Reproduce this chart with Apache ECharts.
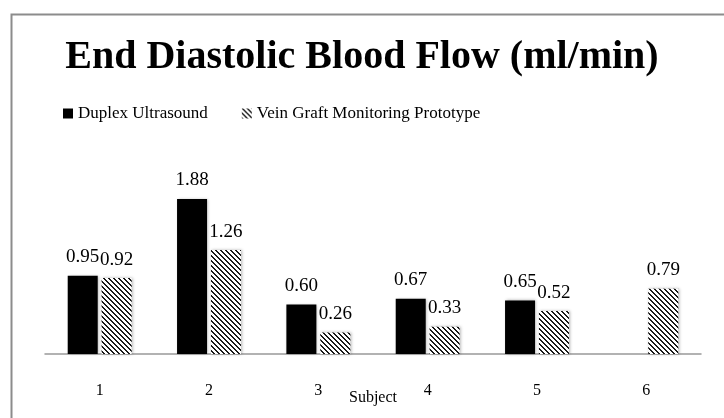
<!DOCTYPE html>
<html>
<head>
<meta charset="utf-8">
<script src="https://cdn.jsdelivr.net/npm/echarts@6/dist/echarts.min.js"></script>
<style>
  html, body { margin: 0; padding: 0; background: #fff; }
  #chart { width: 724px; height: 418px; }
</style>
</head>
<body>
<div id="chart"></div>
<script>
// data
var subjects = ['1', '2', '3', '4', '5', '6'];
var duplex = [0.95, 1.88, 0.60, 0.67, 0.65, null];
var prototype = [0.92, 1.26, 0.26, 0.33, 0.52, 0.79];

// diagonal hatch for the prototype series
function hatch() {
    var n = 5;
    var c = document.createElement('canvas');
    c.width = n;
    c.height = n;
    var ctx = c.getContext('2d');
    ctx.fillStyle = '#fff';
    ctx.fillRect(0, 0, n, n);
    ctx.fillStyle = '#1a1a1a';
    for (var x = 0; x < n; x++) {
        for (var y = 0; y < n; y++) {
            if (((x - y) % n + n) % n < 2) ctx.fillRect(x, y, 1, 1);
        }
    }
    return { image: c, repeat: 'repeat' };
}

var serif = '"Liberation Serif", "Times New Roman", serif';
var shadow = { shadowColor: 'rgba(0,0,0,0.3)', shadowBlur: 3, shadowOffsetX: 1, shadowOffsetY: 0 };

var myChart = echarts.init(document.getElementById('chart'));
myChart.setOption({
    backgroundColor: '#fff',
    animation: false,
    title: {
        text: 'End Diastolic Blood Flow (ml/min)',
        left: 'center',
        top: 33,
        textStyle: { fontFamily: serif, fontWeight: 'bold', fontSize: 40, color: '#000' }
    },
    legend: {
        top: 100,
        left: 58,
        itemWidth: 10,
        itemHeight: 10,
        itemGap: 34,
        icon: 'rect',
        textStyle: { fontFamily: serif, fontSize: 17, color: '#000' }
    },
    graphic: [{
        type: 'rect',
        left: 9,
        top: 12,
        shape: { width: 800, height: 500 },
        style: { fill: 'none', stroke: '#8c8c8c', lineWidth: 2 },
        silent: true
    }],
    grid: { left: 45, right: 23, top: 189, bottom: 64 },
    xAxis: {
        type: 'category',
        data: subjects,
        name: 'Subject',
        nameLocation: 'middle',
        nameGap: 36,
        nameMoveOverlap: false,
        nameTextStyle: { fontFamily: serif, fontSize: 16, color: '#000' },
        axisLine: { lineStyle: { color: '#999', width: 1.5 } },
        axisTick: { show: false },
        axisLabel: { margin: 29, fontFamily: serif, fontSize: 16, color: '#000' }
    },
    yAxis: {
        type: 'value',
        min: 0,
        max: 2,
        show: false,
        splitLine: { show: false }
    },
    series: [{
        name: 'Duplex Ultrasound',
        type: 'bar',
        data: duplex,
        barWidth: 30,
        barGap: '13%',
        itemStyle: Object.assign({ color: '#000' }, shadow),
        label: {
            show: true, position: 'top', distance: 9,
            formatter: function (p) { return p.value.toFixed(2); },
            fontFamily: serif, fontSize: 19, color: '#000'
        }
    }, {
        name: 'Vein Graft Monitoring Prototype',
        type: 'bar',
        data: prototype,
        barWidth: 30,
        itemStyle: Object.assign({ color: hatch() }, shadow),
        label: {
            show: true, position: 'top', distance: 9,
            formatter: function (p) { return p.value.toFixed(2); },
            fontFamily: serif, fontSize: 19, color: '#000'
        }
    }]
});
</script>
</body>
</html>
